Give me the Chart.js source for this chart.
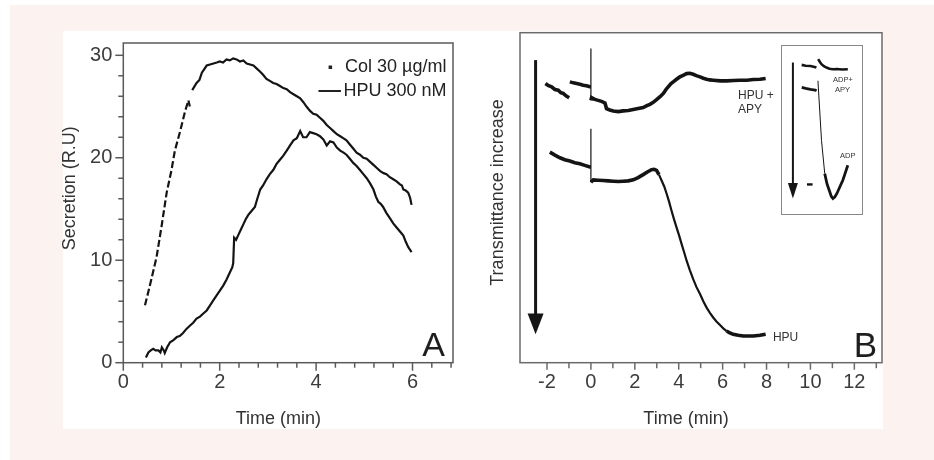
<!DOCTYPE html>
<html>
<head>
<meta charset="utf-8">
<script src="https://cdn.jsdelivr.net/npm/chart.js@4.4.1/dist/chart.umd.min.js"></script>
<style>
  html, body { margin: 0; padding: 0; background: #fff; }
  body { width: 934px; height: 460px; position: relative; overflow: hidden; }
  #bg { position: absolute; left: 10px; top: 5px; width: 924px; height: 455px; background: #fcf2f0; }
  #panel { position: absolute; left: 63px; top: 31px; width: 820px; height: 398px; background: #fff; }
  .box { position: absolute; }
  #boxA { left: 62px; top: 20px; width: 420px; height: 420px; }
  #boxB { left: 482px; top: 20px; width: 420px; height: 420px; }
  #insetFrame { position: absolute; left: 781px; top: 45px; width: 82px; height: 170px; box-sizing: border-box; border: 1.5px solid #888; background: #fff; }
  #boxInset { left: 782px; top: 46.5px; width: 79px; height: 167px; }
</style>
</head>
<body>
<div id="bg"></div>
<div id="panel"></div>
<div class="box" id="boxA"><canvas id="chartA"></canvas></div>
<div class="box" id="boxB"><canvas id="chartB"></canvas></div>
<div id="insetFrame"></div>
<div class="box" id="boxInset"><canvas id="chartInset"></canvas></div>
<script>
// ---- panel A : secretion ----
const colTime = [0.45, 0.55, 0.69, 0.80, 0.90, 1.00, 1.07, 1.18, 1.28, 1.35, 1.38, 1.40, 1.43, 1.52, 1.58, 1.63, 1.73, 1.80, 1.87, 1.94,
    2.00, 2.07, 2.14, 2.21, 2.28, 2.35, 2.42, 2.49, 2.56, 2.63, 2.70, 2.77, 2.84, 2.90, 2.97, 3.04, 3.11, 3.18, 3.25, 3.32,
    3.39, 3.46, 3.53, 3.60, 3.67, 3.74, 3.80, 3.87, 3.94, 4.01, 4.08, 4.15, 4.22, 4.29, 4.36, 4.43, 4.50, 4.57, 4.63, 4.70,
    4.77, 4.84, 4.91, 4.98, 5.05, 5.12, 5.19, 5.26, 5.33, 5.40, 5.46, 5.53, 5.60, 5.67, 5.74, 5.78, 5.81, 5.86, 5.91, 5.95, 5.98];
const colSecretion = [5.6, 7.5, 10.3, 13.5, 16.6, 18.8, 20.7, 22.6, 24.5, 25.6, 25.0, null, 26.6, 27.3, 27.6, 28.3, 29.0, 29.1, 29.2, 29.3,
    29.4, 29.3, 29.6, 29.5, 29.7, 29.6, 29.4, 29.5, 29.2, 29.1, 29.0, 28.7, 28.4, 28.1, 27.7, 27.5, 27.3, 27.2, 27.0, 26.8,
    26.7, 26.4, 26.2, 26.0, 25.8, 25.4, 25.0, 24.6, 24.3, 24.2, 23.9, 23.6, 23.2, 22.9, 22.6, 22.3, 22.1, 21.9, 21.7, 21.3,
    20.9, 20.5, 20.3, 20.0, 19.9, 19.6, 19.3, 19.0, 18.7, 18.5, 18.4, 18.1, 17.9, 17.7, 17.4, 17.3, 16.9, 16.8, 16.6, 16.1, 15.4];
const hpuTime = [0.47, 0.52, 0.57, 0.62, 0.67, 0.73, 0.77, 0.80, 0.84, 0.86, 0.91, 0.97, 1.04, 1.11, 1.17, 1.24, 1.31, 1.38, 1.45, 1.52,
    1.59, 1.66, 1.73, 1.80, 1.87, 1.94, 2.00, 2.07, 2.14, 2.21, 2.26, 2.28, 2.30, 2.34, 2.39, 2.44, 2.49, 2.54, 2.59, 2.66,
    2.73, 2.78, 2.84, 2.90, 2.97, 3.04, 3.11, 3.18, 3.25, 3.32, 3.39, 3.46, 3.53, 3.60, 3.67, 3.73, 3.80, 3.87, 3.94, 4.01,
    4.08, 4.15, 4.22, 4.29, 4.36, 4.43, 4.50, 4.57, 4.63, 4.70, 4.77, 4.84, 4.91, 4.98, 5.05, 5.12, 5.19, 5.24, 5.29, 5.34,
    5.39, 5.46, 5.53, 5.60, 5.67, 5.74, 5.81, 5.86, 5.91, 5.95, 5.98];
const hpuSecretion = [0.5, 1.0, 1.2, 1.35, 1.2, 1.2, 1.0, 1.5, 1.2, 0.95, 1.5, 2.0, 2.2, 2.5, 2.6, 2.9, 3.3, 3.6, 3.9, 4.3,
    4.5, 4.8, 5.1, 5.6, 6.1, 6.6, 7.0, 7.5, 8.1, 8.8, 9.3, 9.7, 12.2, 12.0, 12.5, 13.0, 13.5, 14.0, 14.4, 14.8,
    15.2, 16.0, 16.9, 17.3, 17.9, 18.4, 18.8, 19.4, 19.8, 20.2, 20.7, 21.2, 21.7, 21.9, 22.6, 22.0, 22.0, 22.5, 22.4, 22.3,
    22.1, 21.8, 21.2, 21.6, 21.5, 21.0, 20.7, 20.5, 20.3, 19.9, 19.5, 19.2, 18.8, 18.4, 18.0, 17.5, 16.9, 16.2, 15.7, 15.5,
    15.2, 14.6, 14.1, 13.6, 13.2, 12.8, 12.4, 11.8, 11.3, 11.0, 10.8];
const xTicksA = [0, 0.4, 0.8, 1.2, 1.6, 2, 2.4, 2.8, 3.2, 3.6, 4, 4.4, 4.8, 5.2, 5.6, 6, 6.4, 6.8];
const xLabelsA = [0, 2, 4, 6];
const yTicksA = [0, 2, 4, 6, 8, 10, 12, 14, 16, 18, 20, 22, 24, 26, 28, 30];
const yLabelsA = [0, 10, 20, 30];

// ---- panel B : transmittance (arbitrary units, 0 = bottom of frame) ----
const apyTime = [-2.07, -1.95, -1.79, -1.64, -1.49, -1.37, -1.26, -1.12, -0.99, -0.98, -0.96, -0.80, -0.65, -0.50, -0.35, -0.20, -0.05,
    0, 0, 0, 0.03, 0.18, 0.33, 0.48, 0.64, 0.71, 0.86, 1.02, 1.25, 1.47, 1.70, 1.93, 2.15, 2.38, 2.55, 2.69, 2.84, 2.99,
    3.15, 3.30, 3.42, 3.52, 3.65, 3.75, 3.90, 4.05, 4.20, 4.36, 4.50, 4.66, 4.80, 4.97, 5.12, 5.27, 5.42, 5.57, 5.90,
    6.18, 6.50, 6.79, 7.10, 7.40, 7.70, 7.96];
const apyTrans = [84.6, 84.0, 83.6, 82.8, 82.6, 81.8, 81.6, 80.8, 80.3, null, 85.1, 84.8, 84.6, 84.4, 84.1, 83.9, 83.6,
    83.6, 95.2, 79.5, 80.3, 79.8, 79.5, 79.2, 78.7, 77.0, 76.6, 76.3, 76.1, 76.3, 76.4, 76.7, 77.0, 77.3, 77.9, 78.3, 78.9, 79.7,
    80.6, 81.6, 82.8, 83.6, 84.6, 85.1, 85.9, 86.6, 87.1, 87.6, 87.7, 87.4, 87.0, 86.6, 86.2, 85.9, 85.7, 85.6, 85.4,
    85.4, 85.5, 85.6, 85.6, 85.8, 85.9, 86.1];
const hpuBTime = [-1.87, -1.64, -1.41, -1.19, -0.96, -0.73, -0.50, -0.28, -0.05, 0, 0, 0, 0.11, 0.33, 0.56, 0.79, 1.02, 1.25,
    1.47, 1.70, 1.93, 2.15, 2.38, 2.57, 2.76, 2.88, 2.99, 3.10, 3.22, 3.34, 3.45, 3.56, 3.67, 3.78, 3.90, 4.02, 4.13,
    4.25, 4.36, 4.51, 4.66, 4.81, 4.97, 5.12, 5.27, 5.42, 5.57, 5.72, 5.88, 6.03, 6.18, 6.33, 6.48, 6.71, 6.94, 7.17,
    7.40, 7.70, 7.96];
const hpuBTrans = [63.8, 62.9, 62.1, 61.5, 61.1, 60.6, 60.3, 59.8, 59.3, 59.3, 70.9, 54.7, 55.4, 55.3, 55.2, 55.1, 55.0, 54.9,
    55.0, 55.1, 55.4, 56.1, 57.0, 57.8, 58.5, 58.6, 58.3, 57.0, 55.2, 53.4, 51.2, 48.8, 46.1, 43.6, 41.0, 38.5, 36.0,
    33.4, 30.9, 28.0, 25.3, 22.9, 20.8, 18.6, 16.7, 15.1, 13.7, 12.5, 11.4, 10.4, 9.6, 9.0, 8.6, 8.3, 8.1, 8.1,
    8.1, 8.3, 8.6];
const xTicksB = [-2, -1, 0, 1, 2, 3, 4, 5, 6, 7, 8, 9, 10, 11, 12, 13];
const xLabelsB = [-2, 0, 2, 4, 6, 8, 10, 12];
const arrowBX = [-2.52];
const arrowBY = [91.7, 8.6, 14.9];
const bLabelText = ['HPU +', 'APY', 'HPU'];
const bLabelX = [6.7, 6.7, 8.29];
const bLabelY = [80.8, 76.7, 7.6];

// ---- inset (0..100 box units) ----
const insetUpperX = [24.9, 30, 36, 40, 43.6, 44.7, 45.8, 48, 50, 53, 56.3, 60, 64.5, 70, 76, 83.3];
const insetUpperY = [89.3, 88.8, 88.6, 88.2, 87.7, null, 92.7, 91.0, 89.7, 88.5, 87.7, 87.0, 86.7, 86.8, 86.5, 86.7];
const insetLowerX = [25, 30, 36, 42, 43.8, 44.7, 45.5, 50, 54.1, 57, 60.4, 62.5, 64.5, 67, 69.5, 73, 77, 80, 83.3];
const insetLowerY = [75.8, 75.2, 74.6, 74.2, 73.8, null, 79.8, 44, 24.2, 18, 13.3, 10.5, 9.3, 10.3, 12.3, 16, 20.2, 24.5, 29.2];
const insetDashX = [31.6, 38.7];
const insetDashY = [17.7, 17.7];
const insetArrowX = [13.8];
const insetArrowY = [90.7, 9.3, 18.5];
const insetLabelText = ['ADP+', 'APY', 'ADP'];
const insetLabelX = [64.6, 67, 73.4];
const insetLabelY = [80.4, 74, 35];

Chart.defaults.font.family = "'Liberation Sans', Arial, Helvetica, sans-serif";
Chart.defaults.color = '#3c3c3c';

function pts(xs, ys) {
    return xs.map((x, i) => ({ x: x, y: ys[i] }));
}

// frame round the plot area + tick marks (long for labelled ticks)
const frameTicks = {
    id: 'frameTicks',
    afterDraw(chart, args, o) {
        const { ctx, chartArea: a } = chart;
        ctx.save();
        ctx.strokeStyle = o.color;
        ctx.lineWidth = 1.5;
        ctx.strokeRect(a.left, a.top, a.right - a.left, a.bottom - a.top);
        const sx = chart.scales.x;
        sx.ticks.forEach(t => {
            const px = sx.getPixelForValue(t.value);
            const len = o.xMajor.includes(t.value) ? o.major : o.minor;
            ctx.beginPath();
            ctx.moveTo(px, a.bottom);
            ctx.lineTo(px, a.bottom + len);
            ctx.stroke();
        });
        if (o.yMajor) {
            const sy = chart.scales.y;
            sy.ticks.forEach(t => {
                const py = sy.getPixelForValue(t.value);
                const len = o.yMajor.includes(t.value) ? o.major : o.minor;
                ctx.beginPath();
                ctx.moveTo(a.left - len, py);
                ctx.lineTo(a.left, py);
                ctx.stroke();
            });
        }
        ctx.restore();
    }
};

// free texts (axis titles, panel letters)
const texts = {
    id: 'texts',
    afterDraw(chart, args, o) {
        const ctx = chart.ctx;
        const sx = chart.scales.x, sy = chart.scales.y;
        (o.items || []).forEach(it => {
            let x = it.x, y = it.y;
            if (it.data) {
                x = sx.getPixelForValue(it.x);
                y = sy.getPixelForValue(it.y);
            }
            ctx.save();
            ctx.font = it.font;
            ctx.fillStyle = it.color || '#333';
            ctx.textAlign = it.align || 'center';
            ctx.textBaseline = it.baseline || 'middle';
            ctx.translate(x, y);
            if (it.rot) ctx.rotate(it.rot);
            ctx.fillText(it.text, 0, 0);
            ctx.restore();
        });
    }
};

// vertical arrow in data units
const arrow = {
    id: 'arrow',
    afterDatasetsDraw(chart, args, o) {
        if (!o.x) return;
        const ctx = chart.ctx, sx = chart.scales.x, sy = chart.scales.y;
        const px = sx.getPixelForValue(o.x[0]);
        const top = sy.getPixelForValue(o.y[0]);
        const tip = sy.getPixelForValue(o.y[1]);
        const base = sy.getPixelForValue(o.y[2]);
        ctx.save();
        ctx.strokeStyle = '#151515';
        ctx.fillStyle = '#151515';
        ctx.lineWidth = o.width;
        ctx.beginPath();
        ctx.moveTo(px, top);
        ctx.lineTo(px, base + 1);
        ctx.stroke();
        ctx.beginPath();
        ctx.moveTo(px - o.head, base);
        ctx.lineTo(px + o.head, base);
        ctx.lineTo(px, tip);
        ctx.closePath();
        ctx.fill();
        ctx.restore();
    }
};

// legend of panel A, drawn from the dataset labels
const legendA = {
    id: 'legendA',
    afterDraw(chart) {
        const { ctx, chartArea: a } = chart;
        const right = a.right - 6.5;
        ctx.save();
        ctx.font = '18px "Liberation Sans", Arial, sans-serif';
        ctx.fillStyle = '#222';
        ctx.strokeStyle = '#222';
        ctx.textAlign = 'right';
        ctx.textBaseline = 'middle';
        chart.data.datasets.forEach((ds, i) => {
            const y = a.top + 24.5 + i * 23.5;
            ctx.fillText(ds.label, right, y);
            const left = right - ctx.measureText(ds.label).width;
            if (i === 0) {
                ctx.fillRect(left - 16.5, y - 2, 3.5, 3.5);
            } else {
                ctx.lineWidth = 2;
                ctx.beginPath();
                ctx.moveTo(left - 25, y);
                ctx.lineTo(left - 2.5, y);
                ctx.stroke();
            }
        });
        ctx.restore();
    }
};

const tickFont = { size: 20 };

new Chart(document.getElementById('chartA'), {
    type: 'line',
    data: {
        datasets: [{
            label: 'Col 30 µg/ml',
            data: pts(colTime, colSecretion),
            borderColor: '#141414',
            borderWidth: 2.2,
            pointRadius: 0,
            spanGaps: false,
            segment: {
                borderDash: ctx => ctx.p1.parsed.x <= 1.36 ? [7, 3] : undefined
            }
        }, {
            label: 'HPU 300 nM',
            data: pts(hpuTime, hpuSecretion),
            borderColor: '#141414',
            borderWidth: 2.2,
            pointRadius: 0
        }]
    },
    options: {
        responsive: true,
        maintainAspectRatio: false,
        animation: false,
        devicePixelRatio: 1,
        layout: { padding: { left: 0, top: 12.7, right: 29, bottom: 0 } },
        scales: {
            x: {
                type: 'linear',
                min: 0,
                max: 6.84,
                afterBuildTicks: s => { s.ticks = xTicksA.map(v => ({ value: v })); },
                afterFit: s => { s.height = 77.3; },
                grid: { display: false, drawTicks: false },
                border: { display: false },
                ticks: {
                    autoSkip: false,
                    maxRotation: 0,
                    padding: 8,
                    font: tickFont,
                    callback: v => xLabelsA.includes(v) ? String(v) : ''
                }
            },
            y: {
                min: 0,
                max: 31.2,
                afterBuildTicks: s => { s.ticks = yTicksA.map(v => ({ value: v })); },
                afterFit: s => { s.width = 61.3; },
                grid: { display: false, drawTicks: false },
                border: { display: false },
                ticks: {
                    autoSkip: false,
                    padding: 11,
                    font: tickFont,
                    callback: v => yLabelsA.includes(v) ? String(v) : ''
                }
            }
        },
        plugins: {
            legend: { display: false },
            tooltip: { enabled: false },
            frameTicks: { color: '#5a5a5a', xMajor: xLabelsA, yMajor: yLabelsA, major: 8, minor: 5 },
            texts: {
                items: [
                    { text: 'Secretion (R.U)', x: 8.5, y: 168.3, rot: -Math.PI / 2, font: '18px "Liberation Sans", Arial, sans-serif' },
                    { text: 'Time (min)', x: 216.3, y: 399, font: '18px "Liberation Sans", Arial, sans-serif' },
                    { text: 'A', x: 383, y: 336, align: 'right', baseline: 'alphabetic', color: '#1e1e1e', font: '34px "Liberation Sans", Arial, sans-serif' }
                ]
            }
        }
    },
    plugins: [frameTicks, texts, legendA]
});

const bTexts = [
    { text: 'Transmittance increase', x: 16, y: 172.5, rot: -Math.PI / 2, font: '18px "Liberation Sans", Arial, sans-serif' },
    { text: 'Time (min)', x: 204, y: 399, font: '18px "Liberation Sans", Arial, sans-serif' },
    { text: 'B', x: 395, y: 336.7, align: 'right', baseline: 'alphabetic', color: '#1e1e1e', font: '35px "Liberation Sans", Arial, sans-serif' }
].concat(bLabelText.map((t, i) => ({
    text: t, x: bLabelX[i], y: bLabelY[i], data: true, align: 'left', color: '#333',
    font: '12px "Liberation Sans", Arial, sans-serif'
})));

new Chart(document.getElementById('chartB'), {
    type: 'line',
    data: {
        datasets: [{
            label: 'HPU + APY',
            data: pts(apyTime, apyTrans),
            borderColor: '#141414',
            borderWidth: 3.6,
            pointRadius: 0,
            segment: {
                borderWidth: ctx => ctx.p0.parsed.x === ctx.p1.parsed.x ? 1.2 : 3.6
            }
        }, {
            label: 'HPU',
            data: pts(hpuBTime, hpuBTrans),
            borderColor: '#141414',
            borderWidth: 3.6,
            pointRadius: 0,
            segment: {
                borderWidth: ctx => {
                    if (ctx.p0.parsed.x === ctx.p1.parsed.x) return 1.2;
                    if (ctx.p0.parsed.x >= 3.1 && ctx.p1.parsed.x <= 6.2) return 2.2;
                    return 3.6;
                }
            }
        }]
    },
    options: {
        responsive: true,
        maintainAspectRatio: false,
        animation: false,
        devicePixelRatio: 1,
        layout: { padding: { left: 38, top: 12.7, right: 20, bottom: 0 } },
        scales: {
            x: {
                type: 'linear',
                min: -3.23,
                max: 13.26,
                afterBuildTicks: s => { s.ticks = xTicksB.map(v => ({ value: v })); },
                afterFit: s => { s.height = 77.3; },
                grid: { display: false, drawTicks: false },
                border: { display: false },
                ticks: {
                    autoSkip: false,
                    maxRotation: 0,
                    padding: 8,
                    font: tickFont,
                    callback: v => xLabelsB.includes(v) ? String(v) : ''
                }
            },
            y: { display: false, min: 0, max: 100 }
        },
        plugins: {
            legend: { display: false },
            tooltip: { enabled: false },
            frameTicks: { color: '#6a6a6a', xMajor: xLabelsB, major: 7, minor: 5.5 },
            arrow: { x: arrowBX, y: arrowBY, width: 3, head: 8 },
            texts: { items: bTexts }
        }
    },
    plugins: [frameTicks, texts, arrow]
});

new Chart(document.getElementById('chartInset'), {
    type: 'line',
    data: {
        datasets: [{
            label: 'ADP+APY',
            data: pts(insetUpperX, insetUpperY),
            borderColor: '#141414',
            borderWidth: 2.6,
            pointRadius: 0
        }, {
            label: 'ADP',
            data: pts(insetLowerX, insetLowerY),
            borderColor: '#141414',
            borderWidth: 2.6,
            pointRadius: 0,
            segment: {
                borderWidth: ctx => (ctx.p0.parsed.x >= 45 && ctx.p1.parsed.x <= 55) ? 1 : 2.8
            }
        }, {
            label: 'mark',
            data: pts(insetDashX, insetDashY),
            borderColor: '#141414',
            borderWidth: 2.4,
            pointRadius: 0
        }]
    },
    options: {
        responsive: true,
        maintainAspectRatio: false,
        animation: false,
        devicePixelRatio: 1,
        layout: { padding: 0 },
        scales: {
            x: { type: 'linear', display: false, min: 0, max: 100 },
            y: { display: false, min: 0, max: 100 }
        },
        plugins: {
            legend: { display: false },
            tooltip: { enabled: false },
            arrow: { x: insetArrowX, y: insetArrowY, width: 2, head: 5 },
            texts: {
                items: insetLabelText.map((t, i) => ({
                    text: t, x: insetLabelX[i], y: insetLabelY[i], data: true, align: 'left', color: '#333',
                    font: '7.5px "Liberation Sans", Arial, sans-serif'
                }))
            }
        }
    },
    plugins: [texts, arrow]
});
</script>
</body>
</html>
